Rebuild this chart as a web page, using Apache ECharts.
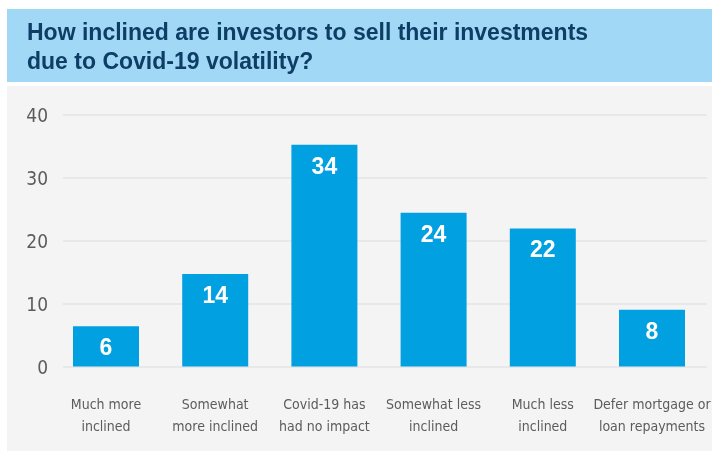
<!DOCTYPE html>
<html>
<head>
<meta charset="utf-8">
<script src="https://cdn.jsdelivr.net/npm/echarts@6/dist/echarts.min.js"></script>
<style>
  html, body { margin: 0; padding: 0; background: #fff; }
  #chart { width: 712px; height: 451px; }
</style>
</head>
<body>
<div id="chart"></div>
<script>
// data
const categories = [
  'Much more\ninclined',
  'Somewhat\nmore inclined',
  'Covid-19 has\nhad no impact',
  'Somewhat less\ninclined',
  'Much less\ninclined',
  'Defer mortgage or\nloan repayments'
]
// bar heights as drawn
const values = [6.4, 14.7, 35.2, 24.4, 21.9, 9.0]
// numbers printed on the bars
const printed = [6, 14, 34, 24, 22, 8]
const yTicks = [0, 10, 20, 30, 40]

const narrow = '"Liberation Sans Narrow", "DejaVu Sans Condensed", sans-serif'

const chart = echarts.init(document.getElementById('chart'))

chart.setOption({
  animation: false,
  backgroundColor: '#ffffff',
  title: {
    text: 'How inclined are investors to sell their investments\ndue to Covid-19 volatility?',
    left: 22,
    top: 14,
    textStyle: {
      fontFamily: '"Liberation Sans", Arial, sans-serif',
      fontWeight: 'bold',
      fontSize: 23,
      lineHeight: 29,
      color: '#0e3d66',
    },
    z: 10,
  },
  graphic: [
    {
      type: 'rect',
      z: -10,
      shape: { x: 7, y: 9, width: 705, height: 73 },
      style: { fill: '#a0d8f6' },
    },
    {
      type: 'rect',
      z: -10,
      shape: { x: 7, y: 86, width: 705, height: 365 },
      style: { fill: '#f4f4f4' },
    },
  ],
  grid: [
    // grid for the gridlines and y labels
    { left: 63, right: 5, top: 114.5, bottom: 84.5, containLabel: false, outerBoundsMode: 'none' },
    // grid for the bars
    { left: 51.4, right: 5.4, top: 114.5, bottom: 84.5, containLabel: false, outerBoundsMode: 'none' },
  ],
  xAxis: [
    {
      gridIndex: 0,
      type: 'category',
      data: categories,
      show: false,
    },
    {
      gridIndex: 1,
      type: 'category',
      data: categories,
      axisLine: { show: false },
      axisTick: { show: false },
      axisLabel: {
        margin: 28,
        interval: 0,
        hideOverlap: false,
        fontFamily: narrow,
        fontSize: 14,
        lineHeight: 22,
        color: '#5c5c5c',
      },
    },
  ],
  yAxis: [
    {
      gridIndex: 0,
      type: 'value',
      min: yTicks[0],
      max: yTicks[yTicks.length - 1],
      interval: 10,
      axisLine: { show: false },
      axisTick: { show: false },
      splitLine: { lineStyle: { color: '#e5e5e5', width: 1.5 } },
      axisLabel: {
        margin: 15,
        verticalAlign: 'top',
        lineHeight: 6,
        fontFamily: narrow,
        fontSize: 19,
        color: '#5c5c5c',
      },
    },
    {
      gridIndex: 1,
      type: 'value',
      min: yTicks[0],
      max: yTicks[yTicks.length - 1],
      interval: 10,
      show: false,
      splitLine: { show: false },
    },
  ],
  series: [
    {
      type: 'bar',
      xAxisIndex: 1,
      yAxisIndex: 1,
      data: values,
      barWidth: 66,
      itemStyle: { color: '#00a0e1' },
      label: {
        show: true,
        position: 'insideTop',
        distance: 11,
        formatter: p => printed[p.dataIndex],
        fontFamily: '"Liberation Sans", Arial, sans-serif',
        fontWeight: 'bold',
        fontSize: 23,
        color: '#ffffff',
      },
    },
  ],
})
</script>
</body>
</html>
